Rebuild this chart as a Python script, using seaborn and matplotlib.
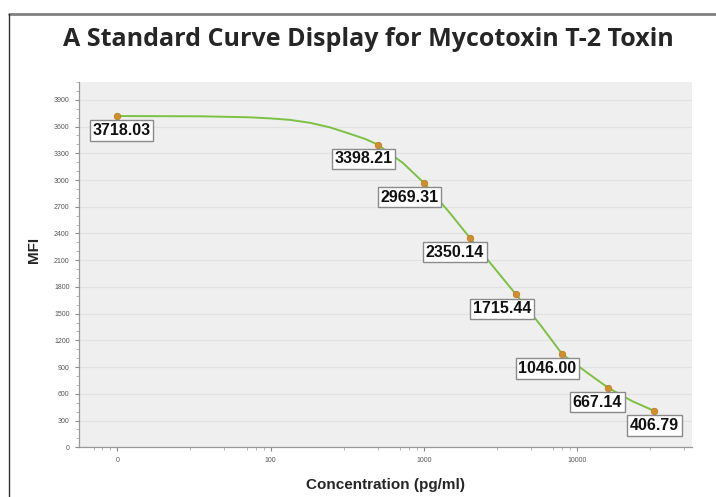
import matplotlib
matplotlib.use('Agg')
import matplotlib.pyplot as plt
import seaborn as sns
import pandas as pd
from matplotlib.lines import Line2D
from matplotlib.ticker import MultipleLocator, LogLocator, NullFormatter

# standards (the "0" standard is drawn at 10 on the log axis)
conc = [10, 500, 1000, 2000, 4000, 8000, 16000, 32000]
mfi = [3718.03, 3398.21, 2969.31, 2350.14, 1715.44, 1046.00, 667.14, 406.79]

# fitted curve
curve_conc = [10, 35, 73, 99, 134, 181, 244, 330, 413, 500, 730, 1000, 1480, 2000,
              2820, 4000, 5780, 8000, 11530, 16000, 23000, 32000]
curve_mfi = [3718, 3715, 3704, 3692, 3675, 3642, 3591, 3518, 3462, 3398, 3192, 2969,
             2630, 2350, 2034, 1715, 1371, 1046, 843, 667, 517, 407]

xtick_pos = [10, 100, 1000, 10000]
xtick_labels = ['0', '100', '1000', '10000']

# horizontal nudge of each value box, in pixels
label_dx = [4, -14, -14, -15, -14, -15, -11, 0]

pts = pd.DataFrame({'conc': conc, 'mfi': mfi})
fit = pd.DataFrame({'conc': curve_conc, 'mfi': curve_mfi})

sns.set_style('white')
plt.rcParams['font.family'] = ['Liberation Sans', 'DejaVu Sans']

fig = plt.figure(figsize=(7.16, 4.97), dpi=100)
ax = fig.add_axes([0.110, 0.100, 0.856, 0.735])
ax.set_facecolor('#efefef')

sns.lineplot(data=fit, x='conc', y='mfi', color='#7cc142', linewidth=1.4, ax=ax, zorder=3)
sns.scatterplot(data=pts, x='conc', y='mfi', color='#d08f2a', s=22, edgecolor='#b8761c',
                linewidth=0.5, ax=ax, zorder=4)

for c, m, dx in zip(conc, mfi, label_dx):
    ax.annotate(f'{m:.2f}', (c, m), xytext=(dx * 0.72, -5), textcoords='offset points',
                ha='center', va='top', fontsize=11.5, fontweight='bold', color='#111111',
                bbox=dict(boxstyle='square,pad=0.16', fc='white', ec='#8a8a8a', lw=1.0),
                zorder=5)

ax.set_xscale('log')
ax.set_xlim(5.6, 56000)
ax.set_ylim(0, 4100)
ax.set_xticks(xtick_pos)
ax.set_xticklabels(xtick_labels)
ax.xaxis.set_minor_locator(LogLocator(base=10, subs=[3, 5, 7, 8, 9]))
ax.xaxis.set_minor_formatter(NullFormatter())
ax.yaxis.set_major_locator(MultipleLocator(300))
ax.yaxis.set_minor_locator(MultipleLocator(100))
ax.grid(axis='y', which='major', color='#e2e2e2', linewidth=0.9)
ax.grid(axis='x', visible=False)

ax.tick_params(axis='both', which='major', labelsize=5, labelcolor='#555555',
               length=3, color='#888888', direction='out', bottom=True, left=True)
ax.tick_params(axis='both', which='minor', length=2, color='#aaaaaa', bottom=True, left=True)
ax.tick_params(axis='x', pad=4)

for side in ['top', 'right']:
    ax.spines[side].set_visible(False)
for side in ['left', 'bottom']:
    ax.spines[side].set_color('#999999')
    ax.spines[side].set_linewidth(0.9)

ax.set_xlabel('Concentration (pg/ml)', fontsize=11, fontweight='bold')
ax.set_ylabel('MFI', fontsize=11, fontweight='bold')
ax.xaxis.set_label_coords(0.50, -0.085)
ax.yaxis.set_label_coords(-0.062, 0.54)

fig.suptitle('A Standard Curve Display for Mycotoxin T-2 Toxin', x=0.515, y=0.945,
             fontsize=18, fontweight='bold', family=['Open Sans', 'DejaVu Sans'])

# screenshot frame
fig.add_artist(Line2D([9 / 716, 1], [1 - 14 / 497] * 2, color='#808080', lw=2))
fig.add_artist(Line2D([9 / 716] * 2, [0, 1 - 14 / 497], color='#333333', lw=1))

plt.savefig('out.png', dpi=100)
